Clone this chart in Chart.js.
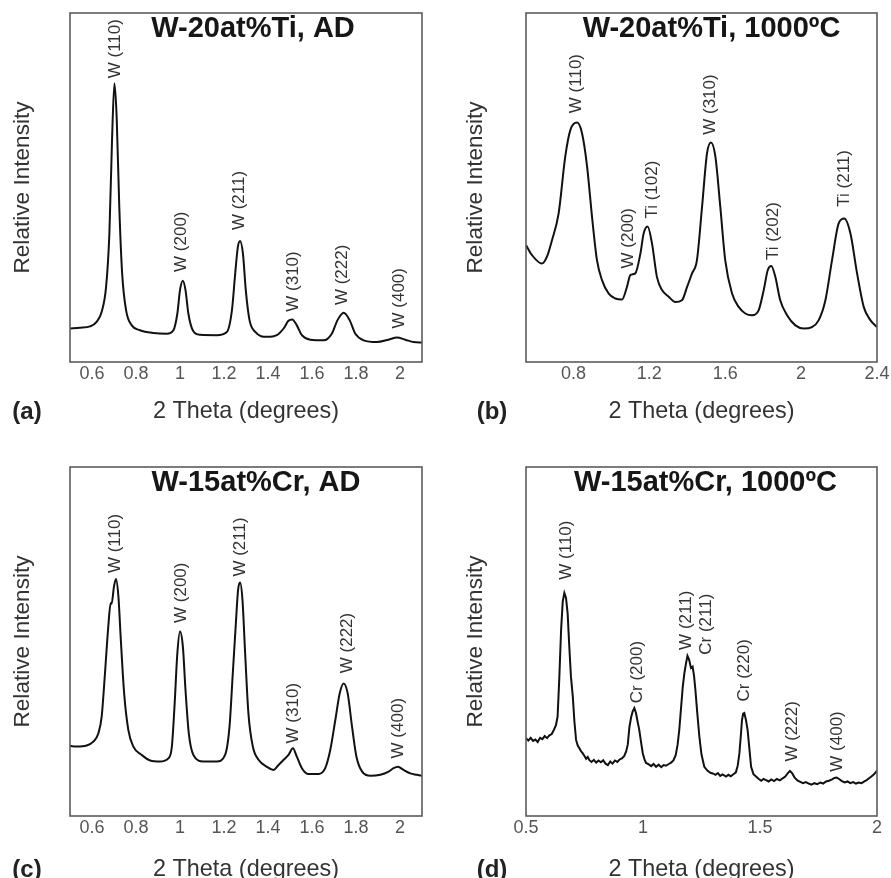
<!DOCTYPE html>
<html>
<head>
<meta charset="utf-8">
<script src="https://cdn.jsdelivr.net/npm/chart.js@4.4.1/dist/chart.umd.min.js"></script>
<style>
html,body{margin:0;padding:0;background:#fff;}
#wrap{position:relative;width:891px;height:878px;overflow:hidden;background:#fff;}
canvas{position:absolute;display:block;}
</style>
</head>
<body>
<div id="wrap">
<canvas id="pa" width="445" height="440" style="left:0;top:0"></canvas>
<canvas id="pb" width="446" height="440" style="left:445px;top:0"></canvas>
<canvas id="pc" width="445" height="438" style="left:0;top:440px"></canvas>
<canvas id="pd" width="446" height="438" style="left:445px;top:440px"></canvas>
</div>
<script>
// ---------- Panel (a): W-20at%Ti, AD ----------
const thetaA = [0.5,0.545,0.591,0.621,0.644,0.664,0.679,0.691,0.702,0.712,0.724,0.737,0.755,0.781,0.818,0.879,0.94,0.97,0.988,1.0,1.013,1.025,1.038,1.058,1.091,1.167,1.213,1.236,1.251,1.263,1.273,1.286,1.299,1.316,1.342,1.395,1.44,1.471,1.493,1.51,1.531,1.554,1.592,1.653,1.69,1.716,1.744,1.771,1.797,1.835,1.895,1.948,1.986,2.024,2.062,2.1];
const intensityA = [9.6,9.8,10.2,11.5,14.4,21.5,36.8,63.6,79.9,70.3,44.5,25.4,14.8,10.5,9.1,8.3,8.1,9.1,13.9,20.6,23.3,20.6,13.9,9.1,7.8,7.7,8.6,14.8,25.4,33,34.7,31.1,20.6,12,8.6,7.2,7.7,9.6,11.8,12.2,10.5,7.7,6.4,6.2,8.1,12,14.1,12,8.1,6.2,5.7,6.4,7.0,6.4,5.7,5.6];
const peakNamesA = ['W (110)','W (200)','W (211)','W (310)','W (222)','W (400)'];
const peakThetaA = [0.708,1.008,1.270,1.516,1.736,1.997];
const peakLabelBaseA = [81.3,25.8,37.8,14.4,16.3,9.6];
const ticksA = [0.6,0.8,1,1.2,1.4,1.6,1.8,2];

// ---------- Panel (b): W-20at%Ti, 1000ºC ----------
const thetaB = [0.55,0.582,0.634,0.66,0.687,0.722,0.757,0.784,0.819,0.845,0.872,0.898,0.924,0.951,0.986,1.021,1.056,1.082,1.1,1.126,1.153,1.17,1.191,1.214,1.24,1.267,1.302,1.337,1.372,1.399,1.425,1.451,1.478,1.504,1.525,1.548,1.574,1.6,1.636,1.671,1.706,1.741,1.776,1.803,1.824,1.843,1.864,1.89,1.926,1.97,2.014,2.057,2.093,2.128,2.163,2.198,2.228,2.26,2.295,2.33,2.365,2.4];
const intensityB = [33.5,30.6,28.2,30.1,34.9,42.6,58.9,66.5,68.6,65.6,56,41.6,29.2,23.4,19.6,18.2,17.9,21.5,24.9,25.4,31.1,36.8,38.8,34,24.4,20.6,18.7,17.2,17.7,21.5,25.4,29.2,44.5,59.8,62.9,58.9,44.5,29.2,19.6,15.8,13.9,13.4,14.8,20.6,26.3,27.5,24.4,17.7,13.4,10.5,9.6,10,12,17.7,29.2,39.7,41.1,36.8,25.4,15.8,12,10];
const peakNamesB = ['W (110)','W (200)','Ti (102)','W (310)','Ti (202)','Ti (211)'];
const peakThetaB = [0.814,1.088,1.218,1.522,1.852,2.228];
const peakLabelBaseB = [71.3,26.8,41.1,65.1,29.2,44.5];
const ticksB = [0.8,1.2,1.6,2,2.4];

// ---------- Panel (c): W-15at%Cr, AD ----------
const thetaC = [0.5,0.53,0.576,0.606,0.629,0.644,0.659,0.674,0.685,0.689,0.7,0.709,0.72,0.731,0.746,0.765,0.788,0.826,0.864,0.909,0.947,0.963,0.975,0.988,1.0,1.013,1.025,1.04,1.061,1.107,1.167,1.205,1.225,1.24,1.254,1.264,1.273,1.284,1.296,1.311,1.331,1.357,1.395,1.425,1.448,1.471,1.493,1.513,1.531,1.554,1.584,1.63,1.66,1.683,1.706,1.726,1.744,1.762,1.782,1.802,1.828,1.866,1.911,1.948,1.971,1.991,2.016,2.047,2.077,2.1];
const intensityC = [20.1,19.9,20.2,21.3,23.7,28.5,40.9,54.3,61,60.8,65.8,67.9,62.9,50.5,35.2,24.7,19.9,17.5,15.9,15.6,16.5,19.9,31.4,46.7,52.9,48.6,36.1,23.7,17.5,15.6,15.6,17.5,25.6,40.9,55.3,64.8,66.9,61.9,46.7,29.4,19.9,16.1,14.1,13.2,14.6,16.1,17.5,19.4,17,13.7,12,12,13.7,18.9,27.5,35.2,38,35.2,25.6,17,12.7,11.5,11.8,12.7,13.7,14.1,13.2,12.2,11.8,11.5];
const peakNamesC = ['W (110)','W (200)','W (211)','W (310)','W (222)','W (400)'];
const peakThetaC = [0.705,1.005,1.273,1.516,1.759,1.994];
const peakLabelBaseC = [69.6,55.3,68.6,20.8,40.9,16.5];
const ticksC = [0.6,0.8,1,1.2,1.4,1.6,1.8,2];

// ---------- Panel (d): W-15at%Cr, 1000ºC ----------
const thetaD = [0.5,0.51,0.52,0.53,0.54,0.55,0.56,0.57,0.58,0.59,0.6,0.61,0.62,0.628,0.635,0.642,0.65,0.657,0.664,0.671,0.678,0.685,0.692,0.7,0.707,0.714,0.721,0.728,0.735,0.742,0.75,0.757,0.764,0.771,0.78,0.79,0.8,0.81,0.82,0.83,0.84,0.85,0.86,0.87,0.88,0.89,0.9,0.91,0.92,0.928,0.935,0.942,0.949,0.956,0.963,0.97,0.977,0.984,0.992,0.999,1.006,1.013,1.025,1.035,1.045,1.056,1.067,1.078,1.088,1.098,1.11,1.12,1.13,1.14,1.148,1.155,1.162,1.17,1.177,1.184,1.19,1.197,1.205,1.212,1.218,1.224,1.232,1.241,1.25,1.262,1.275,1.288,1.298,1.31,1.32,1.33,1.34,1.355,1.365,1.375,1.385,1.397,1.405,1.412,1.418,1.423,1.428,1.433,1.44,1.447,1.455,1.462,1.472,1.483,1.495,1.505,1.515,1.526,1.537,1.548,1.56,1.572,1.585,1.597,1.608,1.618,1.628,1.638,1.648,1.66,1.672,1.684,1.696,1.708,1.72,1.732,1.745,1.758,1.77,1.782,1.795,1.808,1.818,1.828,1.838,1.85,1.862,1.874,1.886,1.898,1.91,1.922,1.934,1.946,1.956,1.966,1.976,1.986,1.994,2.0];
const intensityD = [22.3,21.6,22.4,21.5,21.9,21.2,22.4,22.0,22.9,22.3,23.1,23.5,24.8,26.0,28.5,39,53.3,61.5,63.9,62.5,58,48.6,40,34.2,27,21.8,20.2,19.4,18.6,18.0,17.2,16.4,16.9,16.0,15.5,16.1,15.3,15.9,15.4,16.0,15.0,14.6,15.6,15.0,15.9,15.5,16.2,16.5,17.2,18.5,20.5,25.5,28.2,30.0,30.9,29.5,27.0,24.7,21.0,18.0,16.3,15.2,14.8,14.3,14.9,14.1,14.7,14.0,14.6,14.4,14.9,15.3,15.9,17.5,20.5,24.7,30.5,37.1,41,43.8,45.9,44.8,42.4,42.8,40.2,36.1,29.5,22.7,17.6,14.1,13.0,12.4,12.2,11.8,12.3,11.5,11.9,11.3,11.8,11.4,11.9,12.5,14.5,18.0,23.0,27.5,29.3,29.5,27.5,24.7,19.0,14.1,12.0,11.3,10.6,10.1,10.6,10.3,9.9,10.5,10.0,10.6,10.2,10.8,11.3,12.2,12.9,12.2,11.0,10.2,9.8,9.4,9.7,9.3,9.0,9.4,9.1,9.6,9.3,9.9,10.1,10.5,10.9,11.0,10.6,10.0,9.6,9.9,9.4,9.7,9.3,9.6,9.4,9.9,10.3,10.8,11.3,11.9,12.5,13.0];
const peakNamesD = ['W (110)','Cr (200)','W (211)','Cr (211)','Cr (220)','W (222)','W (400)'];
const peakThetaD = [0.671,0.974,1.184,1.269,1.433,1.637,1.829];
const peakLabelBaseD = [67.7,32.3,47.6,46.2,32.8,15.6,12.7];
const ticksD = [0.5,1,1.5,2];

const FONT = '"Liberation Sans", Arial, Helvetica, sans-serif';

const panelText = {
  id: 'panelText',
  afterDraw(chart, args, o) {
    const ctx = chart.ctx, a = chart.chartArea;
    const xs = chart.scales.x, ys = chart.scales.y;
    const cx = (a.left + a.right) / 2, cy = (a.top + a.bottom) / 2;
    ctx.save();
    // frame
    ctx.strokeStyle = '#5c5c5c';
    ctx.lineWidth = 1.6;
    ctx.strokeRect(a.left, a.top, a.right - a.left, a.bottom - a.top);
    // title
    ctx.fillStyle = '#161616';
    ctx.font = 'bold 29px ' + FONT;
    ctx.textAlign = 'center';
    ctx.textBaseline = 'middle';
    ctx.fillText(o.title, cx + o.titleDx, a.top + o.titleDy);
    // y title
    ctx.save();
    ctx.translate(a.left + o.yTitleDx, cy);
    ctx.rotate(-Math.PI / 2);
    ctx.fillStyle = '#333';
    ctx.font = '22.6px ' + FONT;
    ctx.fillText('Relative Intensity', 0, 0);
    ctx.restore();
    // x title
    ctx.fillStyle = '#333';
    ctx.font = '23.4px ' + FONT;
    ctx.fillText('2 Theta (degrees)', cx, a.bottom + o.xTitleDy);
    // panel letter
    ctx.fillStyle = '#222';
    ctx.font = 'bold 24px ' + FONT;
    ctx.fillText(o.letter, o.letterX, a.bottom + o.xTitleDy);
    // peak labels
    ctx.fillStyle = '#333';
    ctx.font = '17px ' + FONT;
    ctx.textAlign = 'left';
    o.names.forEach((n, i) => {
      const px = xs.getPixelForValue(o.at[i]);
      const py = ys.getPixelForValue(o.base[i]);
      ctx.save();
      ctx.translate(px, py);
      ctx.rotate(-Math.PI / 2);
      ctx.fillText(n, 0, 0);
      ctx.restore();
    });
    ctx.restore();
  }
};

function makePanel(id, p) {
  const pts = p.theta.map((t, i) => ({ x: t, y: p.inten[i] }));
  new Chart(document.getElementById(id), {
    type: 'line',
    data: { datasets: [{
      data: pts,
      borderColor: '#111',
      borderWidth: 2,
      pointRadius: 0,
      fill: false,
      cubicInterpolationMode: p.smooth ? 'monotone' : 'default',
      tension: p.smooth ? 0.4 : 0
    }]},
    options: {
      responsive: false,
      animation: false,
      events: [],
      layout: { padding: { left: p.padL, right: p.padR, top: p.padT, bottom: 0 } },
      scales: {
        x: {
          type: 'linear', min: p.min, max: p.max,
          grid: { display: false, drawTicks: false },
          border: { display: false },
          ticks: {
            color: '#555', font: { size: 18, family: FONT }, padding: 1,
            maxRotation: 0, autoSkip: false,
            callback: v => String(+Number(v).toFixed(2))
          },
          afterBuildTicks: s => { s.ticks = p.ticks.map(v => ({ value: v })); },
          afterFit: s => { s.height = p.axisH; }
        },
        y: { type: 'linear', min: 0, max: 100, display: false }
      },
      plugins: {
        legend: { display: false },
        tooltip: { enabled: false },
        panelText: {
          title: p.title, titleDx: p.titleDx, titleDy: 16,
          yTitleDx: p.yTitleDx, xTitleDy: p.xTitleDy,
          letter: p.letter, letterX: p.letterX,
          names: p.names, at: p.at, base: p.base
        }
      }
    },
    plugins: [panelText]
  });
}

makePanel('pa', { theta: thetaA, inten: intensityA, smooth: true, min: 0.5, max: 2.1, ticks: ticksA,
  padL: 70, padR: 23, padT: 13, axisH: 78, title: 'W-20at%Ti, AD', titleDx: 7, yTitleDx: -47,
  xTitleDy: 50, letter: '(a)', letterX: 27, names: peakNamesA, at: peakThetaA, base: peakLabelBaseA });
makePanel('pb', { theta: thetaB, inten: intensityB, smooth: true, min: 0.55, max: 2.4, ticks: ticksB,
  padL: 81, padR: 14, padT: 13, axisH: 78, title: 'W-20at%Ti, 1000ºC', titleDx: 10, yTitleDx: -50,
  xTitleDy: 50, letter: '(b)', letterX: 47, names: peakNamesB, at: peakThetaB, base: peakLabelBaseB });
makePanel('pc', { theta: thetaC, inten: intensityC, smooth: true, min: 0.5, max: 2.1, ticks: ticksC,
  padL: 70, padR: 23, padT: 27, axisH: 62, title: 'W-15at%Cr, AD', titleDx: 10, yTitleDx: -47,
  xTitleDy: 54, letter: '(c)', letterX: 27, names: peakNamesC, at: peakThetaC, base: peakLabelBaseC });
makePanel('pd', { theta: thetaD, inten: intensityD, smooth: false, min: 0.5, max: 2.0, ticks: ticksD,
  padL: 81, padR: 14, padT: 27, axisH: 62, title: 'W-15at%Cr, 1000ºC', titleDx: 4, yTitleDx: -50,
  xTitleDy: 54, letter: '(d)', letterX: 47, names: peakNamesD, at: peakThetaD, base: peakLabelBaseD });
</script>
</body>
</html>
